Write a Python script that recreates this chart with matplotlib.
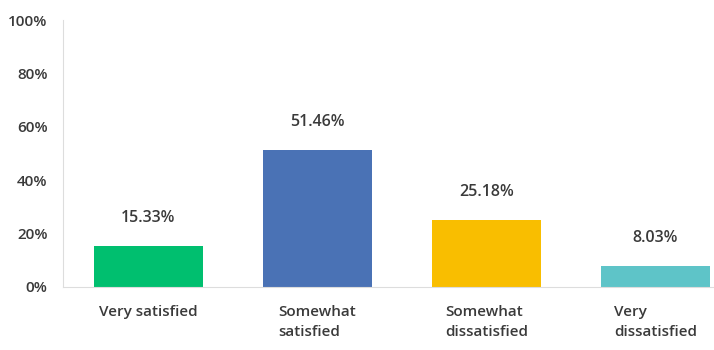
import matplotlib
matplotlib.use("Agg")
import matplotlib.pyplot as plt

# data
categories = ["Very satisfied", "Somewhat\nsatisfied", "Somewhat\ndissatisfied", "Very\ndissatisfied"]
values = [15.33, 51.46, 25.18, 8.03]
colors = ["#00BF6F", "#4A72B5", "#F9BE00", "#5EC4C8"]
yticks = [0, 20, 40, 60, 80, 100]
ytick_labels = ["0%", "20%", "40%", "60%", "80%", "100%"]

plt.rcParams["font.family"] = ["Open Sans", "DejaVu Sans"]
TXT = "#3a3a3a"

fig = plt.figure(figsize=(7.14, 3.5), dpi=100)
ax = fig.add_axes([63 / 714, 63 / 350, 1 - 63 / 714, 267 / 350])

x = list(range(len(values)))
bars = ax.bar(x, values, width=0.645, color=colors)

for xi, v in zip(x, values):
    ax.annotate(f"{v:.2f}%", (xi, v), xytext=(0, 20), textcoords="offset points",
                ha="center", va="center", fontsize=11.5, color=TXT, fontweight="semibold")

ax.set_xlim(-0.505, 3.346)
ax.set_ylim(0, 100)
ax.set_yticks(yticks)
ax.set_yticklabels(ytick_labels, fontsize=11, color=TXT, fontweight="semibold")
ax.set_xticks(x)
ax.set_xticklabels(categories, fontsize=11, color=TXT, fontweight="semibold",
                   linespacing=1.55)
for lbl in ax.get_xticklabels():
    lbl.set_multialignment("left")
ax.tick_params(axis="y", length=0, pad=11)
ax.tick_params(axis="x", length=0, pad=13)

for s in ["top", "right"]:
    ax.spines[s].set_visible(False)
ax.spines["left"].set_color("#dddddd")
ax.spines["bottom"].set_color("#dddddd")

fig.savefig("out.png", dpi=100)
